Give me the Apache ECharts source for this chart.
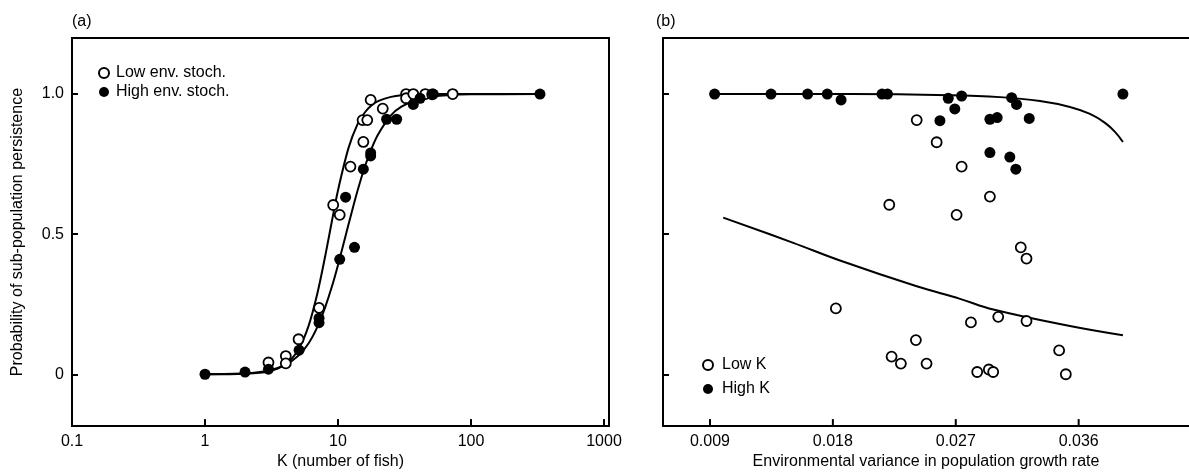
<!DOCTYPE html>
<html><head><meta charset="utf-8">
<script src="https://cdn.jsdelivr.net/npm/echarts@6/dist/echarts.min.js"></script>
<style>html,body{margin:0;padding:0;background:#fff}#c{width:1189px;height:475px}</style>
</head><body><div id="c"></div>
<script>
// ---------- Panel (a): persistence vs K ----------
const lowEnvPoints = [
  [3.0,0.042],[4.05,0.065],[4.05,0.039],[5.05,0.125],[7.2,0.237],[9.2,0.604],[10.3,0.569],
  [12.4,0.741],[15.5,0.829],[15.3,0.907],[16.6,0.907],[17.6,0.979],[21.7,0.948],
  [32.5,1.0],[32.5,0.985],[36.8,1.0],[45.3,1.0],[51,0.999],[72.8,1.0]
];
const highEnvPoints = [
  [1,0.0],[2.0,0.008],[3.0,0.018],[5.1,0.086],[7.2,0.184],[7.2,0.2],[10.3,0.41],[13.3,0.453],
  [11.4,0.632],[15.5,0.732],[17.6,0.779],[17.6,0.79],[23.2,0.91],[27.6,0.91],[36.8,0.963],
  [41.4,0.985],[52,1.0],[330,1.0]
];
const lowEnvCurve = [
  [1,0.0001],[2,0.002],[3,0.010],[4,0.035],[5,0.086],[6,0.172],[7,0.289],[8,0.42],[9,0.547],
  [10,0.657],[12,0.808],[14,0.892],[16,0.936],[18,0.961],[20,0.975],[25,0.990],[30,0.996],
  [40,0.999],[50,1.0],[100,1.0],[330,1.0]
];
const highEnvCurve = [
  [1,0.0004],[2,0.0035],[3,0.013],[4,0.033],[5,0.065],[6,0.110],[7,0.169],[8,0.239],[9,0.313],
  [10,0.39],[12,0.535],[14,0.654],[16,0.744],[18,0.809],[20,0.856],[25,0.924],[30,0.955],
  [40,0.982],[50,0.991],[70,0.997],[100,0.999],[330,1.0]
];
const kTicks = [0.1,1,10,100,1000];
const probTicks = [0,0.5,1];

// ---------- Panel (b): persistence vs environmental variance ----------
const lowKPoints = [
  [0.02414,0.907],[0.02560,0.828],[0.02743,0.741],[0.0295,0.634],[0.02213,0.605],[0.02706,0.569],
  [0.03176,0.453],[0.03218,0.413],[0.01822,0.235],[0.02811,0.185],[0.03011,0.205],[0.03218,0.190],
  [0.02408,0.122],[0.0223,0.063],[0.02298,0.038],[0.02486,0.038],[0.02857,0.008],[0.02942,0.017],
  [0.02974,0.008],[0.03457,0.085],[0.03506,0.0]
];
const highKPoints = [
  [0.00934,1.0],[0.01347,1.0],[0.01615,1.0],[0.01759,1.0],[0.01860,0.979],[0.0216,1.0],[0.0220,1.0],
  [0.02645,0.985],[0.02743,0.993],[0.02693,0.947],[0.02584,0.905],[0.03109,0.987],[0.03145,0.963],
  [0.0295,0.91],[0.03003,0.916],[0.03238,0.913],[0.0295,0.791],[0.03096,0.775],[0.0314,0.732],
  [0.03924,1.0]
];
const lowKCurve = [
  [0.00997,0.559],[0.0151,0.469],[0.01852,0.406],[0.02414,0.314],[0.02731,0.269],[0.02975,0.231],
  [0.03536,0.172],[0.03924,0.139]
];
const highKCurve = [
  [0.00939,1.0],[0.01925,1.0],[0.02657,0.996],[0.03024,0.989],[0.03317,0.975],[0.03536,0.954],
  [0.03683,0.929],[0.03793,0.897],[0.03866,0.865],[0.03924,0.829]
];
const varTicks = [0.009,0.018,0.027,0.036];

const Y_MIN = -0.185, Y_MAX = 1.2;
const FONT = 'Liberation Sans, Arial, sans-serif';
const chart = echarts.init(document.getElementById('c'), null, {renderer:'canvas'});
const openStyle = {color:'#fff', borderColor:'#000', borderWidth:1.8, opacity:1};
const fillStyle = {color:'#000', borderColor:'#000', borderWidth:0, opacity:1};
const tickStyle = {show:true, inside:true, length:6, lineStyle:{color:'#000', width:2}};
const labelStyle = {color:'#000', fontSize:16, fontFamily:FONT};
const axLine = {show:true, onZero:false, lineStyle:{color:'#000', width:2}};
const nameStyle = {color:'#000', fontSize:16, fontFamily:FONT};

// inward x-axis tick marks, placed on the bottom edge (axis minimum) at the tick values
function tickMarks(xIdx, yIdx, values) {
  return {type:'scatter', xAxisIndex:xIdx, yAxisIndex:yIdx, silent:true, clip:false,
    data:values.map(v => [v, Y_MIN]), symbol:'rect', symbolSize:[2,7], symbolOffset:[0,'-50%'],
    itemStyle:{color:'#000', opacity:1}, z:6, tooltip:{show:false}};
}

chart.setOption({
  animation:false,
  backgroundColor:'#fff',
  grid:[
    {left:72, top:38, width:537, height:389, show:true, borderColor:'#000', borderWidth:2, backgroundColor:'transparent'},
    {left:663, top:38, width:526, height:389, show:false}
  ],
  xAxis:[
    {gridIndex:0, type:'log', logBase:10, min:0.1, max:1090,
     axisLine:{show:false, onZero:false}, splitLine:{show:false}, axisTick:{show:false},
     axisLabel:Object.assign({customValues:kTicks, margin:7,
        formatter:v => v < 1 ? '0.1' : String(Math.round(v))}, labelStyle),
     name:'K (number of fish)', nameLocation:'middle', nameGap:24, nameTextStyle:nameStyle},
    {gridIndex:1, type:'value', min:0.00556, max:0.04408,
     axisLine:axLine, splitLine:{show:false}, axisTick:{show:false},
     axisLabel:Object.assign({customValues:varTicks, margin:7,
        formatter:v => v.toFixed(3)}, labelStyle),
     name:'Environmental variance in population growth rate', nameLocation:'middle', nameGap:24,
     nameTextStyle:nameStyle},
    {gridIndex:1, type:'value', position:'top', min:0.00556, max:0.04408,
     axisLine:axLine, splitLine:{show:false}, axisTick:{show:false}, axisLabel:{show:false}}
  ],
  yAxis:[
    {gridIndex:0, type:'value', min:Y_MIN, max:Y_MAX,
     axisLine:{show:false, onZero:false}, splitLine:{show:false},
     axisTick:Object.assign({customValues:probTicks}, tickStyle),
     axisLabel:Object.assign({customValues:probTicks, margin:8,
        formatter:v => v === 0 ? '0' : v.toFixed(1)}, labelStyle),
     name:'Probability of sub-population persistence', nameLocation:'middle', nameGap:46,
     nameTextStyle:nameStyle},
    {gridIndex:1, type:'value', min:Y_MIN, max:Y_MAX,
     axisLine:axLine, splitLine:{show:false},
     axisTick:Object.assign({customValues:probTicks}, tickStyle),
     axisLabel:{show:false}}
  ],
  legend:[
    {orient:'vertical', left:98, top:65, padding:0, itemWidth:10, itemHeight:10, itemGap:3,
     data:['Low env. stoch.','High env. stoch.'],
     textStyle:{color:'#000', fontSize:16, fontFamily:FONT, lineHeight:16, padding:[0,0,0,2]}},
    {orient:'vertical', left:702, top:357, padding:0, itemWidth:10, itemHeight:10, itemGap:8,
     data:['Low K','High K'],
     textStyle:{color:'#000', fontSize:16, fontFamily:FONT, lineHeight:16, padding:[0,0,0,4]}}
  ],
  graphic:[
    {type:'text', left:72, top:14, style:{text:'(a)', fontSize:16, fontFamily:FONT, fill:'#000'}},
    {type:'text', left:656, top:14, style:{text:'(b)', fontSize:16, fontFamily:FONT, fill:'#000'}}
  ],
  series:[
    {type:'line', xAxisIndex:0, yAxisIndex:0, data:lowEnvCurve, smooth:0.3, showSymbol:false,
     lineStyle:{color:'#000', width:2}, z:1, silent:true},
    {type:'line', xAxisIndex:0, yAxisIndex:0, data:highEnvCurve, smooth:0.3, showSymbol:false,
     lineStyle:{color:'#000', width:2}, z:1, silent:true},
    {name:'Low env. stoch.', type:'scatter', xAxisIndex:0, yAxisIndex:0, data:lowEnvPoints,
     symbol:'circle', symbolSize:10, itemStyle:openStyle, z:3},
    {name:'High env. stoch.', type:'scatter', xAxisIndex:0, yAxisIndex:0, data:highEnvPoints,
     symbol:'circle', symbolSize:11, itemStyle:fillStyle, z:4},
    {type:'line', xAxisIndex:1, yAxisIndex:1, data:lowKCurve, smooth:0.4, showSymbol:false,
     lineStyle:{color:'#000', width:2}, z:1, silent:true},
    {type:'line', xAxisIndex:1, yAxisIndex:1, data:highKCurve, smooth:0.4, showSymbol:false,
     lineStyle:{color:'#000', width:2}, z:1, silent:true},
    {name:'Low K', type:'scatter', xAxisIndex:1, yAxisIndex:1, data:lowKPoints,
     symbol:'circle', symbolSize:10, itemStyle:openStyle, z:3},
    {name:'High K', type:'scatter', xAxisIndex:1, yAxisIndex:1, data:highKPoints,
     symbol:'circle', symbolSize:11, itemStyle:fillStyle, z:4},
    tickMarks(0, 0, kTicks),
    tickMarks(1, 1, varTicks)
  ]
});
</script></body></html>
